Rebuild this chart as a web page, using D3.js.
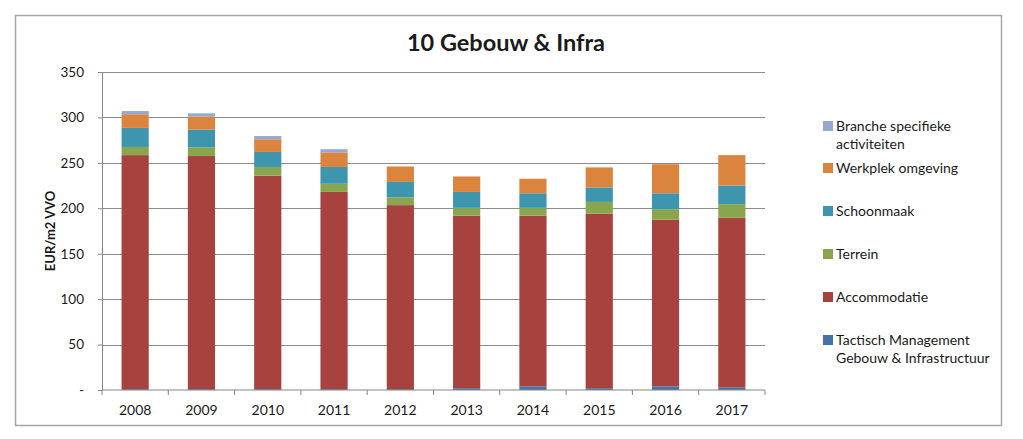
<!DOCTYPE html>
<html>
<head>
<meta charset="utf-8">
<script src="https://cdn.jsdelivr.net/npm/d3@7"></script>
<style>
  body { margin: 0; background: #fff; }
  text { font-family: Lato, "Open Sans", sans-serif; fill: #1a1a1a; }
</style>
</head>
<body>
<div id="chart"></div>
<script>
const years = ['2008', '2009', '2010', '2011', '2012', '2013', '2014', '2015', '2016', '2017'];
const tactisch = [1, 1, 1, 1, 1, 2, 4, 2, 4, 3];
const accommodatie = [257.5, 256.5, 235, 217, 202.5, 190, 188, 192, 183.5, 186.5];
const terrein = [9, 9.5, 9.5, 9, 8.5, 8.5, 8.5, 13, 11.5, 15];
const schoonmaak = [21, 19.5, 16.5, 18.5, 17, 17.5, 16, 16, 17.5, 20.5];
const werkplek = [15, 14.5, 14, 16, 17, 17, 16, 22, 32, 33.5];
const branche = [3.5, 3.5, 3.5, 3.5, 0, 0, 0, 0, 0, 0];
const yTicks = [0, 50, 100, 150, 200, 250, 300, 350];

// bottom to top
const series = [
  { key: 'tactisch', label: ['Tactisch Management', 'Gebouw & Infrastructuur'], values: tactisch, color: '#4572A7' },
  { key: 'accommodatie', label: ['Accommodatie'], values: accommodatie, color: '#A8423F' },
  { key: 'terrein', label: ['Terrein'], values: terrein, color: '#89A54E' },
  { key: 'schoonmaak', label: ['Schoonmaak'], values: schoonmaak, color: '#3D96AE' },
  { key: 'werkplek', label: ['Werkplek omgeving'], values: werkplek, color: '#DB843D' },
  { key: 'branche', label: ['Branche specifieke', 'activiteiten'], values: branche, color: '#93A9CF' }
];

const dim = { width: 1023, height: 439, left: 102, right: 765, top: 72, bottom: 390 };

const rows = years.map((y, i) => {
  const r = { year: y };
  series.forEach(s => { r[s.key] = s.values[i]; });
  return r;
});

const svg = d3.select('#chart')
  .append('svg')
  .attr('width', dim.width)
  .attr('height', dim.height);

// outer frame
svg.append('rect')
  .attr('x', 15.5).attr('y', 15.5)
  .attr('width', 986).attr('height', 410)
  .attr('fill', 'none')
  .attr('stroke', '#a6a6a6')
  .attr('stroke-width', 1.5);

svg.append('text')
  .attr('x', 506).attr('y', 51)
  .attr('text-anchor', 'middle')
  .attr('font-size', 23.5)
  .attr('font-weight', 'bold')
  .text('10 Gebouw & Infra');

const x = d3.scaleBand()
  .domain(years)
  .range([dim.left, dim.right])
  .paddingInner(0.59)
  .paddingOuter(0.295);

const y = d3.scaleLinear()
  .domain([0, 350])
  .range([dim.bottom, dim.top]);

// gridlines + y axis
const yAxis = svg.append('g')
  .attr('transform', `translate(${dim.left},0)`)
  .call(d3.axisLeft(y).tickValues(yTicks).tickSize(4).tickPadding(14)
    .tickFormat(d => d === 0 ? '-' : d));
yAxis.select('.domain').attr('stroke', '#868686');
yAxis.selectAll('.tick line').attr('stroke', '#868686');
yAxis.selectAll('.tick text').attr('font-size', 13.5).attr('fill', '#1a1a1a')
  .style('font-family', 'Lato, sans-serif');

svg.append('g')
  .selectAll('line')
  .data(yTicks.filter(d => d > 0))
  .join('line')
  .attr('x1', dim.left).attr('x2', dim.right)
  .attr('y1', d => Math.round(y(d)) + 0.5).attr('y2', d => Math.round(y(d)) + 0.5)
  .attr('stroke', '#8c8c8c');

// stacked bars
const stack = d3.stack().keys(series.map(s => s.key));
const layers = stack(rows);

svg.append('g')
  .selectAll('g')
  .data(layers)
  .join('g')
  .attr('fill', (d, i) => series[i].color)
  .selectAll('rect')
  .data(d => d)
  .join('rect')
  .attr('x', d => x(d.data.year))
  .attr('width', x.bandwidth())
  .attr('y', d => y(d[1]))
  .attr('height', d => y(d[0]) - y(d[1]));

// x axis
const step = x.step();
const xAxis = svg.append('g')
  .attr('transform', `translate(0,${dim.bottom})`)
  .call(d3.axisBottom(x).tickSize(0).tickPadding(15));
xAxis.select('.domain').attr('stroke', '#868686').attr('d', `M${dim.left},0H${dim.right}`);
xAxis.selectAll('.tick text').attr('font-size', 14).attr('fill', '#1a1a1a')
  .style('font-family', 'Lato, sans-serif');

xAxis.append('g')
  .selectAll('line')
  .data(years.concat(['end']))
  .join('line')
  .attr('x1', (d, i) => dim.left + i * step)
  .attr('x2', (d, i) => dim.left + i * step)
  .attr('y1', 0).attr('y2', 5)
  .attr('stroke', '#868686');

// y axis title
svg.append('text')
  .attr('transform', `translate(50,${(dim.top + dim.bottom) / 2}) rotate(-90)`)
  .attr('text-anchor', 'middle')
  .attr('dy', '0.35em')
  .attr('font-size', 13)
  .attr('font-weight', 'bold')
  .text('EUR/m2 VVO');

// legend, top to bottom
const legendY = [126, 168, 211, 254, 297, 340];
const legend = svg.append('g')
  .selectAll('g')
  .data(series.slice().reverse())
  .join('g')
  .attr('transform', (d, i) => `translate(823,${legendY[i]})`);

legend.append('rect')
  .attr('x', 0).attr('y', -5)
  .attr('width', 10).attr('height', 10)
  .attr('fill', d => d.color);

legend.append('text')
  .attr('x', 13)
  .attr('font-size', 14)
  .selectAll('tspan')
  .data(d => d.label)
  .join('tspan')
  .attr('x', 13)
  .attr('y', (d, i) => i * 18)
  .attr('dy', '0.35em')
  .text(d => d);
</script>
</body>
</html>
